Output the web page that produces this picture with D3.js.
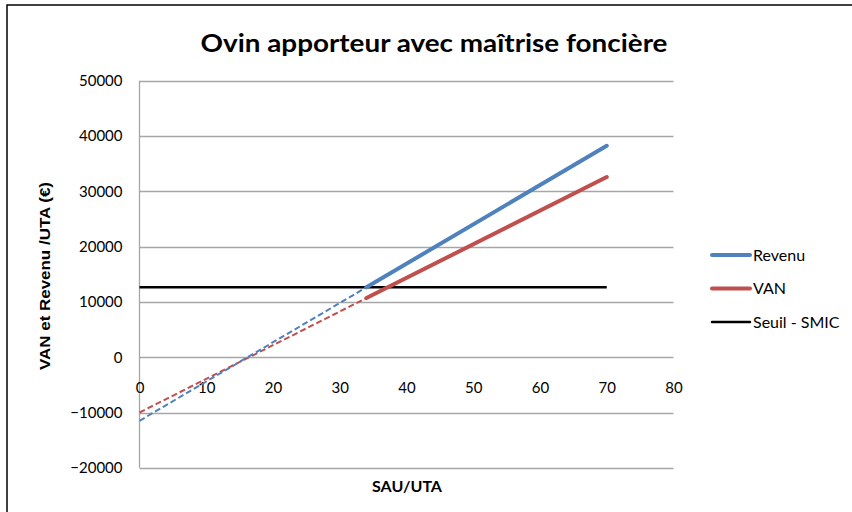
<!DOCTYPE html>
<html>
<head>
<meta charset="utf-8">
<script src="https://cdn.jsdelivr.net/npm/d3@7"></script>
<style>
  html, body { margin: 0; padding: 0; background: #fff; }
  svg { display: block; }
  text { font-family: Lato, "Open Sans", "Liberation Sans", sans-serif; fill: #000; }
</style>
</head>
<body>
<svg id="chart" width="852" height="512"></svg>
<script>
// SAU per UTA at the computed points; the first segment (0 -> 34) is extrapolated
const sau = [0, 34, 70];
const revenu = [-11500, 12650, 38250];
const van = [-10000, 10700, 32600];
const seuilSau = [0, 70];
const seuilSmic = [12650, 12650];
const xTicks = [0, 10, 20, 30, 40, 50, 60, 70, 80];
const yTicks = [-20000, -10000, 0, 10000, 20000, 30000, 40000, 50000];

const svg = d3.select("#chart");

// outer frame
svg.append("rect")
  .attr("x", 7).attr("y", 5).attr("width", 860).attr("height", 520)
  .attr("fill", "none").attr("stroke", "#000").attr("stroke-width", 1.5);

const x = d3.scaleLinear().domain([0, 80]).range([139.5, 673.5]);
const y = d3.scaleLinear().domain([-20000, 50000]).range([467.8, 80.8]);

// gridlines
svg.append("g")
  .selectAll("line").data(yTicks).join("line")
  .attr("x1", x(0)).attr("x2", x(80))
  .attr("y1", d => Math.round(y(d)) + 0.5).attr("y2", d => Math.round(y(d)) + 0.5)
  .attr("stroke", "#a6a6a6").attr("stroke-width", 1.3);

// vertical axis line
svg.append("line")
  .attr("x1", x(0)).attr("x2", x(0))
  .attr("y1", y(50000)).attr("y2", y(-20000))
  .attr("stroke", "#a6a6a6").attr("stroke-width", 1.3);

// y tick labels
const yAxis = d3.axisLeft(y).tickValues(yTicks).tickSize(0).tickPadding(17).tickFormat(d3.format("d"));
const gy = svg.append("g").attr("transform", `translate(${x(0)},0)`).call(yAxis);
gy.select(".domain").remove();
gy.selectAll("text").style("font-size", "15px").style("font-family", "Lato, sans-serif").attr("fill", "#000");

// x tick labels under the zero line
const xAxis = d3.axisBottom(x).tickValues(xTicks).tickSize(0).tickPadding(25).tickFormat(d3.format("d"));
const gx = svg.append("g").attr("transform", `translate(0,${y(0)})`).call(xAxis);
gx.select(".domain").remove();
gx.selectAll("text").style("font-size", "15px").style("font-family", "Lato, sans-serif").attr("fill", "#000");

const line = d3.line().x(d => x(d[0])).y(d => y(d[1]));

function drawSeries(vals, color) {
  const pts = sau.map((s, i) => [s, vals[i]]);
  svg.append("path").datum(pts.slice(0, 2))
    .attr("d", line).attr("fill", "none").attr("stroke", color)
    .attr("stroke-width", 2).attr("stroke-dasharray", "6,3");
  svg.append("path").datum(pts.slice(1))
    .attr("d", line).attr("fill", "none").attr("stroke", color)
    .attr("stroke-width", 4).attr("stroke-linecap", "round");
}

// SMIC threshold
svg.append("path").datum(seuilSau.map((s, i) => [s, seuilSmic[i]]))
  .attr("d", line).attr("fill", "none").attr("stroke", "#000").attr("stroke-width", 2.5);

drawSeries(van, "#c0504d");
drawSeries(revenu, "#4f81bd");

// title
svg.append("text")
  .attr("x", 434).attr("y", 52).attr("text-anchor", "middle")
  .attr("textLength", 467).attr("lengthAdjust", "spacingAndGlyphs")
  .style("font-size", "25px").style("font-weight", "bold")
  .text("Ovin apporteur avec maîtrise foncière");

// axis titles
svg.append("text")
  .attr("transform", "translate(50,276) rotate(-90)")
  .attr("text-anchor", "middle")
  .attr("textLength", 188).attr("lengthAdjust", "spacingAndGlyphs")
  .style("font-family", "'Liberation Sans', Arial, sans-serif")
  .style("font-size", "14px").style("font-weight", "bold")
  .text("VAN et Revenu /UTA (€)");

svg.append("text")
  .attr("x", 407).attr("y", 492).attr("text-anchor", "middle")
  .attr("textLength", 70).attr("lengthAdjust", "spacingAndGlyphs")
  .style("font-size", "15px").style("font-weight", "bold")
  .text("SAU/UTA");

// legend
const legendItems = [
  { name: "Revenu", color: "#4f81bd", w: 4 },
  { name: "VAN", color: "#c0504d", w: 4 },
  { name: "Seuil - SMIC", color: "#000", w: 2.5 }
];
const lg = svg.append("g");
legendItems.forEach((it, i) => {
  const yy = 255 + i * 33.5;
  lg.append("line").attr("x1", 712).attr("x2", 750).attr("y1", yy).attr("y2", yy)
    .attr("stroke", it.color).attr("stroke-width", it.w).attr("stroke-linecap", "round");
  lg.append("text").attr("x", 753).attr("y", yy + 5.5)
    .style("font-size", "16px").text(it.name);
});
</script>
</body>
</html>
